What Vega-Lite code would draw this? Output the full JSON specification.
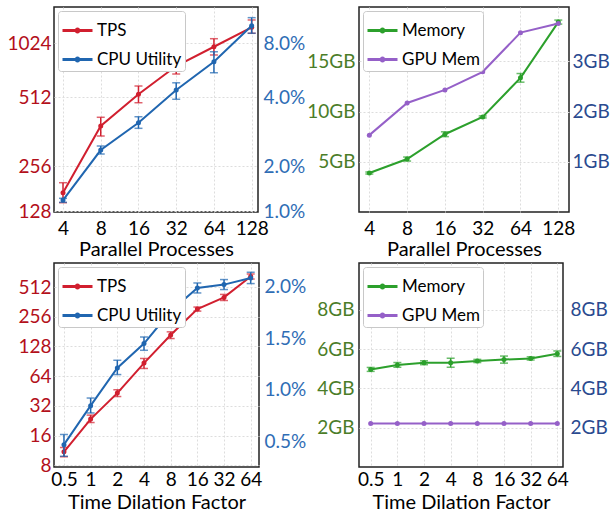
{
"$schema": "https://vega.github.io/schema/vega-lite/v6.json",
"padding": {"left": 6, "top": 6, "right": 0, "bottom": 0},
"background": "white",
"datasets": {
"p1": [
{"x":4,"series":"TPS","v":169.7,"lo":145.5,"hi":197.9},
{"x":8,"series":"TPS","v":382.7,"lo":346,"hi":417.6},
{"x":16,"series":"TPS","v":530,"lo":483.4,"hi":589.6},
{"x":32,"series":"TPS","v":762,"lo":687.8,"hi":841.6},
{"x":64,"series":"TPS","v":976,"lo":878,"hi":1082},
{"x":128,"series":"TPS","v":1252,"lo":1160,"hi":1376},
{"x":4,"series":"CPU Utility","v":1.184,"lo":1.143,"hi":1.216},
{"x":8,"series":"CPU Utility","v":2.348,"lo":2.256,"hi":2.445},
{"x":16,"series":"CPU Utility","v":3.09,"lo":2.92,"hi":3.281},
{"x":32,"series":"CPU Utility","v":4.375,"lo":3.91,"hi":4.8},
{"x":64,"series":"CPU Utility","v":6.29,"lo":5.46,"hi":7.15},
{"x":128,"series":"CPU Utility","v":9.99,"lo":9.06,"hi":11.07}
],
"p2": [
{"x":4,"series":"Memory","v":3.88,"lo":3.78,"hi":3.98},
{"x":8,"series":"Memory","v":5.27,"lo":5.07,"hi":5.47},
{"x":16,"series":"Memory","v":7.74,"lo":7.5,"hi":7.98},
{"x":32,"series":"Memory","v":9.46,"lo":9.36,"hi":9.56},
{"x":64,"series":"Memory","v":13.35,"lo":12.92,"hi":13.78},
{"x":128,"series":"Memory","v":18.9,"lo":18.7,"hi":19.1},
{"x":4,"series":"GPU Mem","v":1.53},
{"x":8,"series":"GPU Mem","v":2.17},
{"x":16,"series":"GPU Mem","v":2.43},
{"x":32,"series":"GPU Mem","v":2.79},
{"x":64,"series":"GPU Mem","v":3.57},
{"x":128,"series":"GPU Mem","v":3.75}
],
"p3": [
{"x":0.5,"series":"TPS","v":10.96,"lo":9.75,"hi":12.12},
{"x":1,"series":"TPS","v":23.5,"lo":21.7,"hi":25.8},
{"x":2,"series":"TPS","v":43.1,"lo":39.8,"hi":46.6},
{"x":4,"series":"TPS","v":86.9,"lo":76.6,"hi":96.7},
{"x":8,"series":"TPS","v":167,"lo":154,"hi":180},
{"x":16,"series":"TPS","v":306,"lo":292,"hi":321},
{"x":32,"series":"TPS","v":402,"lo":374,"hi":431},
{"x":64,"series":"TPS","v":656,"lo":617,"hi":694},
{"x":0.5,"series":"CPU Utility","v":0.467,"lo":0.354,"hi":0.565},
{"x":1,"series":"CPU Utility","v":0.846,"lo":0.775,"hi":0.92},
{"x":2,"series":"CPU Utility","v":1.212,"lo":1.148,"hi":1.287},
{"x":4,"series":"CPU Utility","v":1.449,"lo":1.384,"hi":1.513},
{"x":8,"series":"CPU Utility","v":1.763,"lo":1.721,"hi":1.795},
{"x":16,"series":"CPU Utility","v":1.989,"lo":1.941,"hi":2.038},
{"x":32,"series":"CPU Utility","v":2.022,"lo":1.974,"hi":2.071},
{"x":64,"series":"CPU Utility","v":2.087,"lo":2.032,"hi":2.142}
],
"p4": [
{"x":0.5,"series":"Memory","v":4.97,"lo":4.87,"hi":5.07},
{"x":1,"series":"Memory","v":5.2,"lo":5.08,"hi":5.32},
{"x":2,"series":"Memory","v":5.31,"lo":5.21,"hi":5.41},
{"x":4,"series":"Memory","v":5.31,"lo":5.08,"hi":5.54},
{"x":8,"series":"Memory","v":5.4,"lo":5.32,"hi":5.48},
{"x":16,"series":"Memory","v":5.47,"lo":5.29,"hi":5.65},
{"x":32,"series":"Memory","v":5.53,"lo":5.45,"hi":5.61},
{"x":64,"series":"Memory","v":5.77,"lo":5.63,"hi":5.91},
{"x":0.5,"series":"GPU Mem","v":2.21},
{"x":1,"series":"GPU Mem","v":2.21},
{"x":2,"series":"GPU Mem","v":2.21},
{"x":4,"series":"GPU Mem","v":2.21},
{"x":8,"series":"GPU Mem","v":2.21},
{"x":16,"series":"GPU Mem","v":2.21},
{"x":32,"series":"GPU Mem","v":2.21},
{"x":64,"series":"GPU Mem","v":2.21}
]
},
"columns": 2,
"spacing": {"row": 51, "column": 100},
"bounds": "flush",
"resolve": {"scale": {"color": "independent", "x": "independent", "y": "independent"}, "legend": {"color": "independent"}},
"concat": [
{
"width": 204, "height": 205,
"data": {"name": "p1"},
"layer": [
{"transform": [{"filter": "datum.series == 'TPS'"}],
 "encoding": {"x": {"field":"x","type":"quantitative","scale":{"type":"log","base":2,"domain":[3.39,143.8],"nice":false},"axis":{"values":[4,8,16,32,64,128],"format":"~g","title":"Parallel Processes","grid":true,"labelPadding":7,"titlePadding":1,"labelFlush":false,"labelOverlap":false}}},
 "layer": [
  {"mark":{"type":"line","strokeWidth":2},"encoding":{"color":{"field":"series","type":"nominal","scale":{"domain":["TPS","CPU Utility"],"range":["#d11f2f","#2066b0"]},"legend":{"title":null}},"y":{"field":"v","type":"quantitative","scale":{"type":"log","domain":[126,128,256,512,1024,1625],"range":[205,204,159,90,36,0],"nice":false},"axis":{"orient":"left","values":[128,256,512,1024],"format":"d","labelColor":"#b3101b","grid":true,"title":null,"labelPadding":3}}}},
  {"mark":{"type":"point","filled":true,"size":25,"opacity":1},"encoding":{"color":{"field":"series","type":"nominal","legend":null},"y":{"field":"v","type":"quantitative"}}},
  {"mark":{"type":"rule","strokeWidth":1.5},"encoding":{"color":{"field":"series","type":"nominal","legend":null},"y":{"field":"lo","type":"quantitative"},"y2":{"field":"hi"}}},
  {"mark":{"type":"tick","orient":"horizontal","size":8,"thickness":1.5},"encoding":{"color":{"field":"series","type":"nominal","legend":null},"y":{"field":"lo","type":"quantitative"}}},
  {"mark":{"type":"tick","orient":"horizontal","size":8,"thickness":1.5},"encoding":{"color":{"field":"series","type":"nominal","legend":null},"y":{"field":"hi","type":"quantitative"}}}
 ]},
{"transform": [{"filter": "datum.series == 'CPU Utility'"}],
 "encoding": {"x": {"field":"x","type":"quantitative","scale":{"type":"log","base":2,"domain":[3.39,143.8],"nice":false}}},
 "layer": [
  {"mark":{"type":"line","strokeWidth":2},"encoding":{"color":{"field":"series","type":"nominal","legend":{"title":null}},"y":{"field":"v","type":"quantitative","scale":{"type":"log","domain":[0.984,1,2,4,8,12.69],"range":[205,204,159,90,36,0],"nice":false},"axis":{"orient":"right","values":[1,2,4,8],"labelExpr":"format(datum.value, '.1f') + '%'","labelColor":"#2f6db5","grid":false,"title":null,"labelPadding":5}}}},
  {"mark":{"type":"point","filled":true,"size":25,"opacity":1},"encoding":{"color":{"field":"series","type":"nominal","legend":null},"y":{"field":"v","type":"quantitative"}}},
  {"mark":{"type":"rule","strokeWidth":1.5},"encoding":{"color":{"field":"series","type":"nominal","legend":null},"y":{"field":"lo","type":"quantitative"},"y2":{"field":"hi"}}},
  {"mark":{"type":"tick","orient":"horizontal","size":8,"thickness":1.5},"encoding":{"color":{"field":"series","type":"nominal","legend":null},"y":{"field":"lo","type":"quantitative"}}},
  {"mark":{"type":"tick","orient":"horizontal","size":8,"thickness":1.5},"encoding":{"color":{"field":"series","type":"nominal","legend":null},"y":{"field":"hi","type":"quantitative"}}}
 ]}
],
"resolve": {"scale": {"y": "independent"}}
},
{
"width": 210, "height": 205,
"data": {"name": "p2"},
"layer": [
{"transform": [{"filter": "datum.series == 'Memory'"}],
 "encoding": {"x": {"field":"x","type":"quantitative","scale":{"type":"log","base":2,"domain":[3.31,155.8],"nice":false},"axis":{"values":[4,8,16,32,64,128],"format":"~g","title":"Parallel Processes","grid":true,"labelPadding":7,"titlePadding":1,"labelFlush":false,"labelOverlap":false}}},
 "layer": [
  {"mark":{"type":"line","strokeWidth":2},"encoding":{"color":{"field":"series","type":"nominal","scale":{"domain":["Memory","GPU Mem"],"range":["#2ca02c","#9560c8"]},"legend":{"title":null}},"y":{"field":"v","type":"quantitative","scale":{"domain":[0,20.4],"nice":false,"zero":false},"axis":{"orient":"left","values":[5,10,15],"labelExpr":"datum.value + 'GB'","labelColor":"#4b7d28","grid":true,"title":null,"labelPadding":4}}}},
  {"mark":{"type":"point","filled":true,"size":25,"opacity":1},"encoding":{"color":{"field":"series","type":"nominal","legend":null},"y":{"field":"v","type":"quantitative"}}},
  {"mark":{"type":"rule","strokeWidth":1.5},"encoding":{"color":{"field":"series","type":"nominal","legend":null},"y":{"field":"lo","type":"quantitative"},"y2":{"field":"hi"}}},
  {"mark":{"type":"tick","orient":"horizontal","size":8,"thickness":1.5},"encoding":{"color":{"field":"series","type":"nominal","legend":null},"y":{"field":"lo","type":"quantitative"}}},
  {"mark":{"type":"tick","orient":"horizontal","size":8,"thickness":1.5},"encoding":{"color":{"field":"series","type":"nominal","legend":null},"y":{"field":"hi","type":"quantitative"}}}
 ]},
{"transform": [{"filter": "datum.series == 'GPU Mem'"}],
 "encoding": {"x": {"field":"x","type":"quantitative","scale":{"type":"log","base":2,"domain":[3.31,155.8],"nice":false}}},
 "layer": [
  {"mark":{"type":"line","strokeWidth":2},"encoding":{"color":{"field":"series","type":"nominal","legend":{"title":null}},"y":{"field":"v","type":"quantitative","scale":{"domain":[0,4.08],"nice":false,"zero":false},"axis":{"orient":"right","values":[1,2,3],"labelExpr":"datum.value + 'GB'","labelColor":"#2a4a8f","grid":false,"title":null,"labelPadding":3}}}},
  {"mark":{"type":"point","filled":true,"size":25,"opacity":1},"encoding":{"color":{"field":"series","type":"nominal","legend":null},"y":{"field":"v","type":"quantitative"}}}
 ]}
],
"resolve": {"scale": {"y": "independent"}}
},
{
"width": 205, "height": 204,
"data": {"name": "p3"},
"layer": [
{"transform": [{"filter": "datum.series == 'TPS'"}],
 "encoding": {"x": {"field":"x","type":"quantitative","scale":{"type":"log","base":2,"domain":[0.386,79.4],"nice":false},"axis":{"values":[0.5,1,2,4,8,16,32,64],"format":"~g","title":"Time Dilation Factor","grid":true,"labelPadding":3,"titlePadding":3,"labelFlush":false,"labelOverlap":false}}},
 "layer": [
  {"mark":{"type":"line","strokeWidth":2},"encoding":{"color":{"field":"series","type":"nominal","scale":{"domain":["TPS","CPU Utility"],"range":["#d11f2f","#2066b0"]},"legend":{"title":null}},"y":{"field":"v","type":"quantitative","scale":{"type":"log","base":2,"domain":[7.69,897],"nice":false},"axis":{"orient":"left","values":[8,16,32,64,128,256,512],"format":"d","labelColor":"#b3101b","grid":true,"title":null,"labelPadding":3}}}},
  {"mark":{"type":"point","filled":true,"size":25,"opacity":1},"encoding":{"color":{"field":"series","type":"nominal","legend":null},"y":{"field":"v","type":"quantitative"}}},
  {"mark":{"type":"rule","strokeWidth":1.5},"encoding":{"color":{"field":"series","type":"nominal","legend":null},"y":{"field":"lo","type":"quantitative"},"y2":{"field":"hi"}}},
  {"mark":{"type":"tick","orient":"horizontal","size":8,"thickness":1.5},"encoding":{"color":{"field":"series","type":"nominal","legend":null},"y":{"field":"lo","type":"quantitative"}}},
  {"mark":{"type":"tick","orient":"horizontal","size":8,"thickness":1.5},"encoding":{"color":{"field":"series","type":"nominal","legend":null},"y":{"field":"hi","type":"quantitative"}}}
 ]},
{"transform": [{"filter": "datum.series == 'CPU Utility'"}],
 "encoding": {"x": {"field":"x","type":"quantitative","scale":{"type":"log","base":2,"domain":[0.386,79.4],"nice":false}}},
 "layer": [
  {"mark":{"type":"line","strokeWidth":2},"encoding":{"color":{"field":"series","type":"nominal","legend":{"title":null}},"y":{"field":"v","type":"quantitative","scale":{"domain":[0.25,2.232],"nice":false,"zero":false},"axis":{"orient":"right","values":[0.5,1,1.5,2],"labelExpr":"format(datum.value, '.1f') + '%'","labelColor":"#2f6db5","grid":false,"title":null,"labelPadding":5}}}},
  {"mark":{"type":"point","filled":true,"size":25,"opacity":1},"encoding":{"color":{"field":"series","type":"nominal","legend":null},"y":{"field":"v","type":"quantitative"}}},
  {"mark":{"type":"rule","strokeWidth":1.5},"encoding":{"color":{"field":"series","type":"nominal","legend":null},"y":{"field":"lo","type":"quantitative"},"y2":{"field":"hi"}}},
  {"mark":{"type":"tick","orient":"horizontal","size":8,"thickness":1.5},"encoding":{"color":{"field":"series","type":"nominal","legend":null},"y":{"field":"lo","type":"quantitative"}}},
  {"mark":{"type":"tick","orient":"horizontal","size":8,"thickness":1.5},"encoding":{"color":{"field":"series","type":"nominal","legend":null},"y":{"field":"hi","type":"quantitative"}}}
 ]}
],
"resolve": {"scale": {"y": "independent"}}
},
{
"width": 204, "height": 204,
"data": {"name": "p4"},
"layer": [
{"transform": [{"filter": "datum.series == 'Memory'"}],
 "encoding": {"x": {"field":"x","type":"quantitative","scale":{"type":"log","base":2,"domain":[0.369,74.2],"nice":false},"axis":{"values":[0.5,1,2,4,8,16,32,64],"format":"~g","title":"Time Dilation Factor","grid":true,"labelPadding":3,"titlePadding":3,"labelFlush":false,"labelOverlap":false}}},
 "layer": [
  {"mark":{"type":"line","strokeWidth":2},"encoding":{"color":{"field":"series","type":"nominal","scale":{"domain":["Memory","GPU Mem"],"range":["#2ca02c","#9560c8"]},"legend":{"title":null}},"y":{"field":"v","type":"quantitative","scale":{"domain":[0,10.39],"nice":false,"zero":false},"axis":{"orient":"left","values":[2,4,6,8],"labelExpr":"datum.value + 'GB'","labelColor":"#4b7d28","grid":true,"title":null,"labelPadding":5}}}},
  {"mark":{"type":"point","filled":true,"size":25,"opacity":1},"encoding":{"color":{"field":"series","type":"nominal","legend":null},"y":{"field":"v","type":"quantitative"}}},
  {"mark":{"type":"rule","strokeWidth":1.5},"encoding":{"color":{"field":"series","type":"nominal","legend":null},"y":{"field":"lo","type":"quantitative"},"y2":{"field":"hi"}}},
  {"mark":{"type":"tick","orient":"horizontal","size":8,"thickness":1.5},"encoding":{"color":{"field":"series","type":"nominal","legend":null},"y":{"field":"lo","type":"quantitative"}}},
  {"mark":{"type":"tick","orient":"horizontal","size":8,"thickness":1.5},"encoding":{"color":{"field":"series","type":"nominal","legend":null},"y":{"field":"hi","type":"quantitative"}}}
 ]},
{"transform": [{"filter": "datum.series == 'GPU Mem'"}],
 "encoding": {"x": {"field":"x","type":"quantitative","scale":{"type":"log","base":2,"domain":[0.369,74.2],"nice":false}}},
 "layer": [
  {"mark":{"type":"line","strokeWidth":2},"encoding":{"color":{"field":"series","type":"nominal","legend":{"title":null}},"y":{"field":"v","type":"quantitative","scale":{"domain":[0,10.39],"nice":false,"zero":false},"axis":{"orient":"right","values":[2,4,6,8],"labelExpr":"datum.value + 'GB'","labelColor":"#2a4a8f","grid":false,"title":null,"labelPadding":7}}}},
  {"mark":{"type":"point","filled":true,"size":25,"opacity":1},"encoding":{"color":{"field":"series","type":"nominal","legend":null},"y":{"field":"v","type":"quantitative"}}}
 ]}
],
"resolve": {"scale": {"y": "independent"}}
}
],
"config": {
"font": "Lato",
"view": {"stroke": "#222222", "strokeWidth": 1.5},
"axis": {"ticks": false, "domain": false, "labelFont": "Lato", "labelFontSize": 19, "labelColor": "#000000", "titleFont": "Lato", "titleFontSize": 20, "titleFontWeight": "normal", "titleColor": "#000000", "gridColor": "#dddddd", "gridDash": [2, 2], "gridWidth": 1},
"legend": {"orient": "top-left", "offset": 4, "padding": 3, "strokeColor": "#c8c8c8", "fillColor": "white", "cornerRadius": 3, "labelFont": "Lato", "labelFontSize": 17, "labelColor": "#000000", "symbolType": "M-1,0L1,0M0.1,0A0.1,0.1,0,1,1,-0.1,0A0.1,0.1,0,1,1,0.1,0", "symbolSize": 900, "symbolStrokeWidth": 3, "rowPadding": 4, "labelOffset": 3}
}
}
